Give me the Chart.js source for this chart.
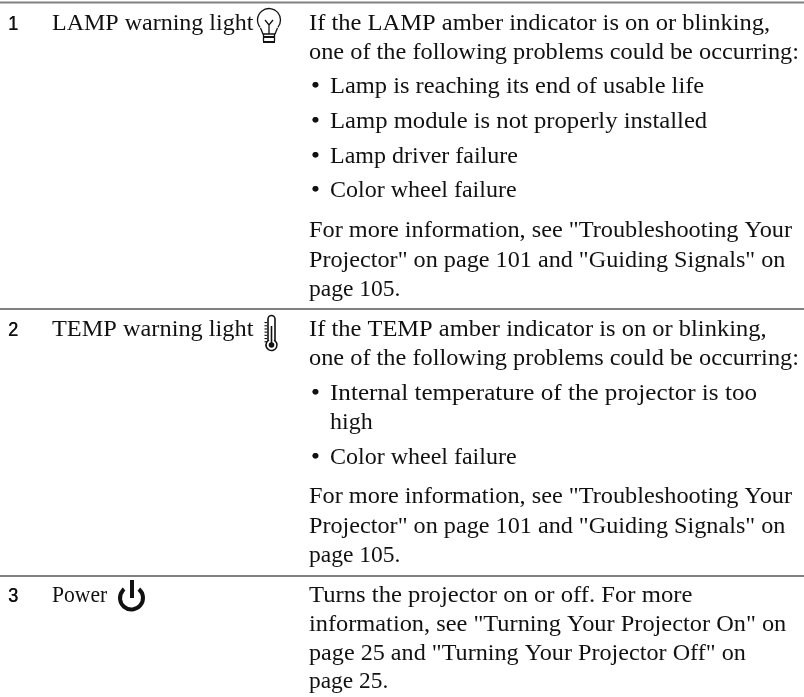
<!DOCTYPE html>
<html>
<head>
<meta charset="utf-8">
<title>Projector warning lights</title>
<script src="https://cdn.jsdelivr.net/npm/chart.js@4"></script>
<style>
  html, body { margin: 0; padding: 0; background: #fff; }
  #wrap { width: 804px; height: 697px; }
</style>
</head>
<body>
<div id="wrap"><canvas id="tableChart" width="804" height="697"></canvas></div>
<script>
const rowNumbers = ["1", "2", "3"];
const rowNames = ["LAMP warning light", "TEMP warning light", "Power"];
const rowDescriptions = [
  [
    "If the LAMP amber indicator is on or blinking,",
    "one of the following problems could be occurring:",
    "• Lamp is reaching its end of usable life",
    "• Lamp module is not properly installed",
    "• Lamp driver failure",
    "• Color wheel failure",
    "For more information, see \"Troubleshooting Your",
    "Projector\" on page 101 and \"Guiding Signals\" on",
    "page 105."
  ],
  [
    "If the TEMP amber indicator is on or blinking,",
    "one of the following problems could be occurring:",
    "• Internal temperature of the projector is too",
    "high",
    "• Color wheel failure",
    "For more information, see \"Troubleshooting Your",
    "Projector\" on page 101 and \"Guiding Signals\" on",
    "page 105."
  ],
  [
    "Turns the projector on or off. For more",
    "information, see \"Turning Your Projector On\" on",
    "page 25 and \"Turning Your Projector Off\" on",
    "page 25."
  ]
];

// layout, in page pixels (the scales run 0-804 / 0-697)
const ruleY = [2.5, 309, 576];
const baselines = [
  [30, 59, 93, 128, 163, 197, 237, 267, 296],
  [336, 365, 400, 429, 464, 503, 533, 562],
  [602, 631, 660, 688]
];
// the reference face is a Garamond, so each line gets its own small stretch
const nameStretch = [1, 1.014, 0.9];
const lineStretch = [
  [1.022, 1.014, 1.019, 1.027, 1, 1, 1.0125, 1.008, 0.98],
  [1.02, 1.014, 1.047, 1, 1, 1.0125, 1.008, 0.98],
  [1.027, 1.015, 1.007, 0.975]
];
const bodyFont = '24px "Liberation Serif"';
const numFont = '20px "Liberation Sans Narrow", "Liberation Sans"';
const ink = "#111111";

const tableText = {
  id: "tableText",
  afterDatasetsDraw(chart) {
    const { ctx, scales: { x, y } } = chart;
    const put = (text, px, py, font, sx) => {
      ctx.save();
      ctx.translate(x.getPixelForValue(px), y.getPixelForValue(py));
      ctx.scale(sx, 1);
      ctx.font = font;
      ctx.fillStyle = ink;
      ctx.textBaseline = "alphabetic";
      ctx.fillText(text, 0, 0);
      ctx.restore();
    };
    rowNumbers.forEach((n, i) => {
      put(n, 8, baselines[i][0], numFont, 0.9);
      put(n, 8.4, baselines[i][0], numFont, 0.9);
      put(rowNames[i], 52, baselines[i][0], bodyFont, nameStretch[i]);
      rowDescriptions[i].forEach((line, j) => {
        const py = baselines[i][j];
        const sx = lineStretch[i][j];
        if (line.startsWith("• ")) {
          put("•", 311, py, bodyFont, 1);
          put("•", 311.5, py, bodyFont, 1);
          put(line.slice(2), 330, py, bodyFont, sx);
        } else {
          put(line, line === "high" ? 330 : 309, py, bodyFont, sx);
        }
      });
    });

    ctx.save();
    ctx.strokeStyle = ink;
    ctx.fillStyle = ink;
    // lamp icon
    ctx.lineWidth = 1.3;
    ctx.beginPath();
    ctx.arc(269, 20, 11.5, Math.PI * 0.78, Math.PI * 0.22);
    ctx.moveTo(260.5, 28); ctx.lineTo(263, 34); ctx.lineTo(275, 34); ctx.lineTo(277.5, 28);
    ctx.moveTo(265, 20); ctx.lineTo(269, 25); ctx.lineTo(273, 20);
    ctx.moveTo(269, 25); ctx.lineTo(269, 34);
    ctx.moveTo(263.5, 34); ctx.lineTo(263.5, 41);
    ctx.moveTo(274.5, 34); ctx.lineTo(274.5, 41);
    ctx.stroke();
    ctx.lineWidth = 1.8;
    ctx.beginPath();
    ctx.moveTo(263, 37); ctx.lineTo(275, 37);
    ctx.moveTo(263, 42); ctx.lineTo(275, 42);
    ctx.stroke();
    // thermometer icon
    ctx.lineWidth = 1.6;
    ctx.beginPath();
    ctx.arc(271.5, 345, 5.5, Math.PI * 1.65, Math.PI * 1.35);
    ctx.moveTo(268, 341); ctx.lineTo(268, 319);
    ctx.arc(271.5, 319, 3.5, Math.PI, 0);
    ctx.lineTo(275, 341);
    ctx.stroke();
    ctx.beginPath();
    ctx.arc(271.5, 345, 2.8, 0, Math.PI * 2);
    ctx.fill();
    ctx.fillRect(270.7, 326, 1.6, 18);
    for (let t = 322; t < 342; t += 3.2) ctx.fillRect(264.5, t, 2.5, 1.1);
    // power icon
    ctx.lineWidth = 4;
    ctx.beginPath();
    ctx.arc(131.5, 598, 11.5, Math.PI * 1.72, Math.PI * 1.28);
    ctx.stroke();
    ctx.beginPath();
    ctx.moveTo(132, 580); ctx.lineTo(132, 598);
    ctx.stroke();
    ctx.restore();
  }
};

new Chart(document.getElementById("tableChart"), {
  type: "scatter",
  data: {
    datasets: ruleY.map(v => ({
      data: [{ x: 0, y: v }, { x: 804, y: v }],
      showLine: true,
      borderColor: "#808080",
      borderWidth: 2,
      pointRadius: 0
    }))
  },
  options: {
    responsive: false,
    animation: false,
    layout: { padding: 0 },
    plugins: { legend: { display: false }, tooltip: { enabled: false } },
    scales: {
      x: { display: false, min: 0, max: 804 },
      y: { display: false, min: 0, max: 697, reverse: true }
    }
  },
  plugins: [tableText]
});
</script>
</body>
</html>
